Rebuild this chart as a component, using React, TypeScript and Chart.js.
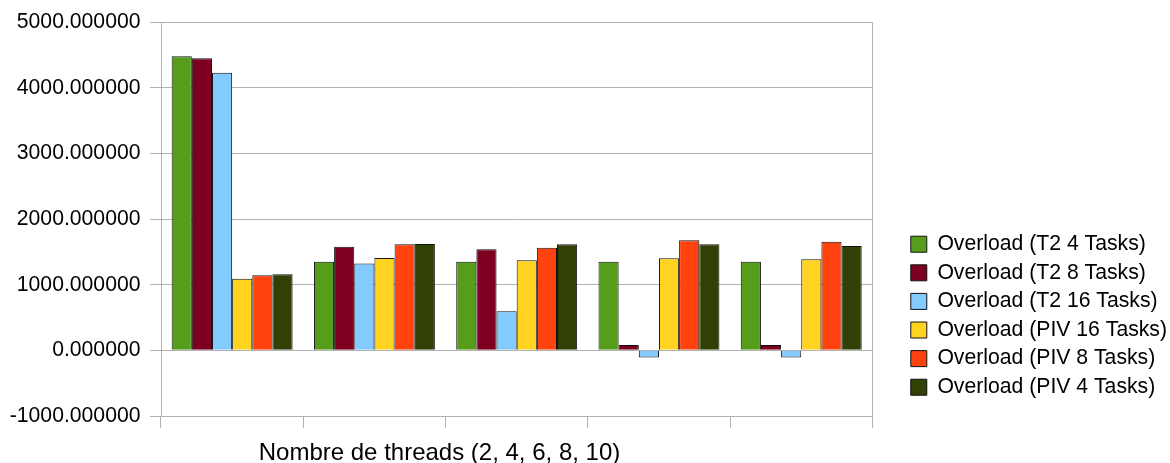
import React, { useEffect, useRef } from "react";
import { Chart, registerables } from "chart.js";

Chart.register(...registerables);

// Thread counts for each group of bars
const categories = ["2", "4", "6", "8", "10"];

// Overload per configuration
const t2Tasks4 = [4480, 1352, 1352, 1352, 1352];
const t2Tasks8 = [4450, 1580, 1540, 80, 80];
const t2Tasks16 = [4230, 1322, 597, -110, -110];
const pivTasks16 = [1090, 1409, 1373, 1404, 1389];
const pivTasks8 = [1145, 1617, 1565, 1678, 1655];
const pivTasks4 = [1160, 1622, 1617, 1617, 1591];

const seriesLabels = [
  "Overload (T2 4 Tasks)",
  "Overload (T2 8 Tasks)",
  "Overload (T2 16 Tasks)",
  "Overload (PIV 16 Tasks)",
  "Overload (PIV 8 Tasks)",
  "Overload (PIV 4 Tasks)",
];
const seriesValues = [t2Tasks4, t2Tasks8, t2Tasks16, pivTasks16, pivTasks8, pivTasks4];
const seriesColors = ["#579d1c", "#7e0021", "#83caff", "#ffd320", "#ff420e", "#314004"];

const xTitle = "Nombre de threads (2, 4, 6, 8, 10)";

const GRID = "#b3b3b3";
const FONT = "'Liberation Sans', Arial, sans-serif";

// Axis title sits left of the plot centre, so it is painted by hand
const xTitlePlugin = {
  id: "xTitle",
  afterDraw(chart: any) {
    const { ctx } = chart;
    ctx.save();
    ctx.font = `24px ${FONT}`;
    ctx.fillStyle = "#000";
    ctx.textAlign = "center";
    ctx.textBaseline = "alphabetic";
    ctx.fillText(xTitle, 439.5, 460);
    ctx.restore();
  },
};

export default function App() {
  const canvasRef = useRef<HTMLCanvasElement | null>(null);

  useEffect(() => {
    if (!canvasRef.current) return;
    const chart = new Chart(canvasRef.current, {
      type: "bar",
      data: {
        labels: categories,
        datasets: seriesLabels.map((label, i) => ({
          label,
          data: seriesValues[i],
          backgroundColor: seriesColors[i],
          borderColor: "#111",
          borderWidth: 1,
          categoryPercentage: 0.85,
          barPercentage: 1,
        })),
      },
      options: {
        animation: false,
        responsive: true,
        maintainAspectRatio: false,
        font: { family: FONT },
        layout: { padding: { top: 21, bottom: 35, left: 0, right: 0 } },
        plugins: {
          tooltip: { enabled: false },
          legend: {
            position: "right",
            align: "start",
            fullSize: false,
            maxWidth: 320,
            // empty title only pushes the entries down beside the plot
            title: { display: true, text: "", font: { size: 1 }, padding: { top: 202.8, bottom: 0 } },
            labels: {
              boxWidth: 16,
              boxHeight: 16,
              padding: 7.4,
              color: "#000",
              font: { size: 21.2, family: FONT },
            },
          },
        },
        scales: {
          x: {
            type: "category",
            offset: true,
            grid: {
              offset: true,
              color: "rgba(0,0,0,0)",
              tickColor: GRID,
              tickLength: 12,
              drawTicks: true,
            },
            border: { display: true, color: GRID },
            ticks: { display: false },
          },
          y: {
            type: "linear",
            position: "left",
            min: -1000,
            max: 5000,
            afterFit(scale: any) {
              scale.width = 161;
            },
            ticks: {
              stepSize: 1000,
              padding: 9.5,
              color: "#000",
              font: { size: 21.2, family: FONT },
              callback: (v: any) => Number(v).toFixed(6),
            },
            grid: { color: GRID, tickColor: GRID, tickLength: 11 },
            border: { display: true, color: GRID },
          },
          yRight: {
            type: "linear",
            position: "right",
            min: -1000,
            max: 5000,
            afterFit(scale: any) {
              scale.width = 31;
            },
            ticks: { display: false },
            grid: { display: false },
            border: { display: true, color: GRID },
          },
        },
      },
      plugins: [xTitlePlugin],
    });
    return () => chart.destroy();
  }, []);

  return (
    <div style={{ position: "fixed", left: 0, top: 0, width: 1170, height: 463, overflow: "hidden", background: "#fff" }}>
      <div style={{ position: "relative", width: 1177, height: 463 }}>
        <canvas ref={canvasRef} />
      </div>
    </div>
  );
}
